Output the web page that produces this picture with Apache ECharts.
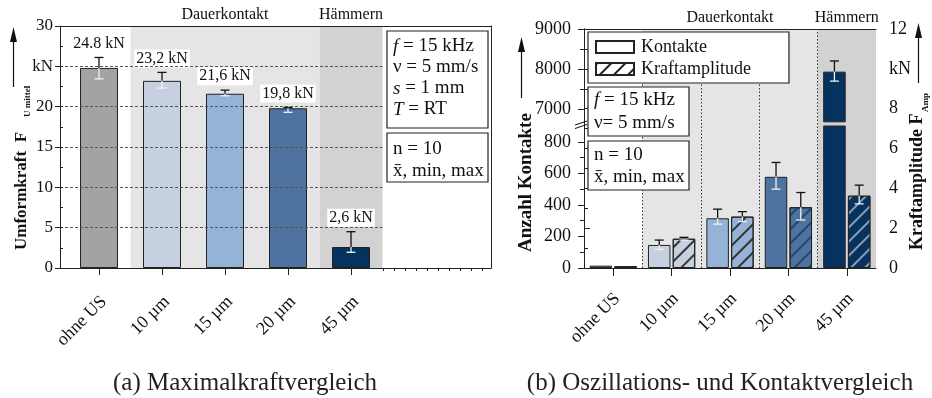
<!DOCTYPE html>
<html>
<head>
<meta charset="utf-8">
<script src="https://cdn.jsdelivr.net/npm/echarts@6/dist/echarts.min.js"></script>
<style>
  html, body { margin: 0; padding: 0; background: #fff; }
  #c { width: 932px; height: 398px; }
</style>
</head>
<body>
<div id="c"></div>
<script>
// ---------- Daten ----------
const categories = ['ohne US', '10 µm', '15 µm', '20 µm', '45 µm'];
const regionNames = ['Dauerkontakt', 'Hämmern'];

// (a) Umformkraft F_U mittel in kN (Mittelwert, Minimum, Maximum)
const forceMean = [24.8, 23.2, 21.6, 19.8, 2.6];
const forceMin = [23.45, 22.3, 21.35, 19.3, 1.95];
const forceMax = [26.1, 24.25, 22.05, 19.9, 4.5];
const forceDecimalSep = ['.', ',', ',', ',', ','];
const forceTicks = [0, 5, 10, 15, 20, 25, 30];

// (b) Anzahl Kontakte
const contactMean = [15, 146, 315, 578, 7943];
const contactMin = [null, 118, 278, 500, 7708];
const contactMax = [null, 177, 373, 669, 8208];
const contactTicksLow = [0, 200, 400, 600, 800];
const contactTicksHigh = [7000, 8000, 9000];

// (b) Kraftamplitude F_Amp in kN
const ampMean = [0.1, 1.47, 2.58, 3.05, 3.63];
const ampMin = [null, 1.40, 2.33, 2.41, 3.22];
const ampMax = [null, 1.54, 2.83, 3.79, 4.16];

// ---------- Stil ----------
const SERIF = '"Liberation Serif", "Times New Roman", serif';
const INK = '#111';
const barColors = ['#a3a3a3', '#c7d0e0', '#95b3d7', '#4e73a0', '#063260'];
const hatchColors = ['#333', '#333', '#333', '#26456e', '#8b9bb2'];
const axisLineStyle = { color: '#222', width: 1 };
const plain = v => String(v);

// Layout (a)
const A_XMIN = 0.381, A_XMAX = 7.222, A_LABEL_SHIFT = 0.08;
const xPos = categories.map((_, i) => i + 1);
const aMinorX = [];
for (let v = 5.513; v < A_XMAX; v += 0.1741) aMinorX.push(v);

// Layout (b)
const B_BAR_W = 22.5, B_GAP = '10%';
const B_OFFSET = (B_BAR_W + B_BAR_W * 0.1) / 2;
const B_LABEL_SHIFT = 0.07;
const LOW_MAX = 900, HIGH_MIN = 6700, HIGH_MAX = 9000;

function hatch(color) {
  return { symbol: 'rect', symbolSize: 1, color: color, dashArrayX: [1, 0], dashArrayY: [1.2, 7.3], rotation: -Math.PI / 4 };
}

function whiskers(offset, withLabel) {
  return function (params, api) {
    const x = api.value(0), m = api.value(1), lo = api.value(2), hi = api.value(3);
    const pm = api.coord([x, m]), pl = api.coord([x, lo]), ph = api.coord([x, hi]);
    const cx = pm[0] + offset, cap = 4.5;
    const dark = { stroke: '#111', lineWidth: 1.3 };
    const light = { stroke: '#f2f2f2', lineWidth: 1.3 };
    const children = [
      { type: 'line', shape: { x1: cx, y1: pm[1], x2: cx, y2: ph[1] }, style: dark },
      { type: 'line', shape: { x1: cx - cap, y1: ph[1], x2: cx + cap, y2: ph[1] }, style: dark },
      { type: 'line', shape: { x1: cx, y1: pm[1], x2: cx, y2: pl[1] }, style: light },
      { type: 'line', shape: { x1: cx - cap, y1: pl[1], x2: cx + cap, y2: pl[1] }, style: light }
    ];
    if (withLabel) {
      const i = params.dataIndex;
      children.push({
        type: 'text', x: cx, y: ph[1] - 14,
        style: {
          text: forceMean[i].toFixed(1).replace('.', forceDecimalSep[i]) + ' kN',
          fontSize: 16, fontFamily: SERIF, fill: INK,
          align: 'center', verticalAlign: 'middle',
          backgroundColor: '#fff', padding: [1, 2]
        }
      });
    }
    return { type: 'group', children: children };
  };
}

function frameAxis(extra) {
  return Object.assign({
    axisLine: { show: true, lineStyle: axisLineStyle },
    axisTick: { show: false }, axisLabel: { show: false }, splitLine: { show: false }, z: 10
  }, extra);
}

const labelFont = { fontFamily: SERIF, color: INK };

// ---------- Grafische Beschriftung ----------
function box(x, y, w, h) {
  return { type: 'rect', z: 20, silent: true, shape: { x: x, y: y, width: w, height: h },
           style: { fill: '#fff', stroke: '#222', lineWidth: 1.2 } };
}
function infoText(x, y, text, size, lh) {
  return { type: 'text', z: 21, silent: true, x: x, y: y,
    style: { text: text, fontSize: size, fontFamily: SERIF, fill: INK, lineHeight: lh,
      align: 'left', verticalAlign: 'top',
      rich: { i: { fontStyle: 'italic', fontSize: size, fontFamily: SERIF, fill: INK, lineHeight: lh } } } };
}
function vText(x, y, text, size, bold) {
  return { type: 'text', z: 21, silent: true, x: x, y: y, rotation: Math.PI / 2,
    style: { text: text, fontSize: size, fontWeight: bold ? 'bold' : 'normal', fontFamily: SERIF,
      fill: INK, align: 'left', verticalAlign: 'middle' } };
}
function arrow(x, yTail, yTip) {
  return [
    { type: 'line', z: 21, silent: true, shape: { x1: x, y1: yTail, x2: x, y2: yTip + 10 }, style: { stroke: INK, lineWidth: 1.2 } },
    { type: 'polygon', z: 21, silent: true, shape: { points: [[x, yTip], [x - 3.5, yTip + 15], [x + 3.5, yTip + 15]] }, style: { fill: INK } }
  ];
}
function caption(x, y, text) {
  return { type: 'text', z: 21, silent: true, x: x, y: y,
    style: { text: text, fontSize: 25, fontFamily: SERIF, fill: '#222', align: 'center', verticalAlign: 'middle' } };
}

const graphics = [].concat(
  [box(387, 31, 101, 97),
   infoText(393, 36, '{i|f} = 15 kHz\nν = 5 mm/s\n{i|s} = 1 mm\n{i|T} = RT', 19, 21),
   box(387, 133, 101, 49),
   infoText(393, 138, 'n = 10\nx\u0304, min, max', 19, 22),
   box(588, 87, 101, 49),
   infoText(594, 88.5, '{i|f} = 15 kHz\nν= 5 mm/s', 19, 23),
   box(588, 141, 101, 49),
   infoText(594, 144, 'n = 10\nx\u0304, min, max', 19, 22)],
  arrow(13.5, 87, 27), arrow(521.5, 98, 37), arrow(918.5, 83, 23),
  [vText(22, 250, 'Umformkraft  F', 17, true),
   vText(27.5, 117, 'U mittel', 9, true),
   vText(526, 252, 'Anzahl Kontakte', 19, true),
   vText(917, 250, 'Kraftamplitude F', 18, true),
   vText(926, 112, 'Amp', 9, true),
   caption(245, 383, '(a) Maximalkraftvergleich'),
   caption(720, 383, '(b) Oszillations- und Kontaktvergleich'),
   { type: 'line', z: 21, silent: true, shape: { x1: 575, y1: 125, x2: 587, y2: 121 }, style: { stroke: INK, lineWidth: 1 } },
   { type: 'line', z: 21, silent: true, shape: { x1: 575, y1: 128.5, x2: 587, y2: 124.5 }, style: { stroke: INK, lineWidth: 1 } }]
);

const option = {
  animation: false,
  textStyle: { fontFamily: SERIF },
  grid: [
    { left: 60, top: 26, width: 431, height: 242 },
    { left: 584, top: 29, width: 292, height: 239 },
    { left: 584, top: 126, width: 292, height: 142 },
    { left: 584, top: 29, width: 292, height: 92.8 }
  ],
  legend: {
    data: ['Kontakte', 'Kraftamplitude'], orient: 'vertical', left: 588, top: 32,
    icon: 'rect', itemWidth: 38, itemHeight: 12, itemGap: 4, padding: [6, 38, 5, 7],
    backgroundColor: '#fff', borderColor: '#222', borderWidth: 1.2, selectedMode: false,
    textStyle: { fontFamily: SERIF, fontSize: 18, color: INK, padding: [0, 0, 0, 2] }, z: 20
  },
  xAxis: [
    // 0: (a) Grundlinie mit Kategorie-Strichen
    { type: 'value', gridIndex: 0, position: 'bottom', min: A_XMIN, max: A_XMAX,
      axisLine: { show: true, lineStyle: axisLineStyle },
      axisTick: { show: true, customValues: xPos, length: 7, lineStyle: axisLineStyle },
      axisLabel: { show: false }, splitLine: { show: false }, z: 10 },
    // 1: (a) Kategorienamen
    { type: 'value', gridIndex: 0, position: 'bottom', min: A_XMIN, max: A_XMAX,
      axisLine: { show: false }, axisTick: { show: false }, splitLine: { show: false },
      axisLabel: Object.assign({ customValues: xPos.map(v => v + A_LABEL_SHIFT), rotate: 45, margin: 31, fontSize: 18,
        formatter: v => categories[Math.round(v - A_LABEL_SHIFT) - 1] }, labelFont) },
    // 2: (a) kleine Striche rechts
    { type: 'value', gridIndex: 0, position: 'bottom', min: A_XMIN, max: A_XMAX,
      axisLine: { show: false }, axisTick: { show: true, customValues: aMinorX, length: 3, lineStyle: axisLineStyle },
      axisLabel: { show: false }, splitLine: { show: false }, z: 10 },
    // 3: (a) oberer Rahmen
    frameAxis({ type: 'value', gridIndex: 0, position: 'top', min: A_XMIN, max: A_XMAX }),
    // 4: (b) Kategorieachse
    { type: 'category', gridIndex: 1, position: 'bottom', data: categories,
      axisLine: { show: true, lineStyle: axisLineStyle },
      axisTick: { show: true, alignWithLabel: true, length: 8, lineStyle: axisLineStyle },
      axisLabel: { show: false }, splitLine: { show: false }, z: 10 },
    // 5: (b) Hilfsachse für Bereiche, Trennlinien und Namen
    { type: 'value', gridIndex: 1, position: 'bottom', min: 0, max: categories.length,
      axisLine: { show: false }, axisTick: { show: false }, splitLine: { show: false },
      axisLabel: Object.assign({ customValues: categories.map((_, i) => i + 0.5 + B_LABEL_SHIFT), rotate: 45, margin: 28, fontSize: 18,
        formatter: v => categories[Math.round(v - 0.5 - B_LABEL_SHIFT)] }, labelFont) },
    // 6: (b) oberer Rahmen
    frameAxis({ type: 'value', gridIndex: 1, position: 'top', min: 0, max: categories.length }),
    // 7, 8: (b) Kategorieachsen der Kontakt-Abschnitte
    { type: 'category', gridIndex: 2, position: 'bottom', data: categories, show: false },
    { type: 'category', gridIndex: 3, position: 'bottom', data: categories, show: false }
  ],
  yAxis: [
    // 0: Umformkraft
    { type: 'value', gridIndex: 0, position: 'left', min: 0, max: 30, interval: 5,
      axisLine: { show: true, lineStyle: axisLineStyle },
      axisTick: { show: true, length: 5, lineStyle: axisLineStyle },
      axisLabel: Object.assign({ fontSize: 17, margin: 7, formatter: v => (v === 25 ? 'kN' : String(v)) }, labelFont),
      splitLine: { show: false }, z: 10 },
    // 1: innere Zwischenstriche
    { type: 'value', gridIndex: 0, position: 'left', min: 0, max: 30, interval: 2.5,
      axisLine: { show: false }, axisTick: { show: true, inside: true, length: 3, lineStyle: axisLineStyle },
      axisLabel: { show: false }, splitLine: { show: false }, z: 10 },
    // 2: rechter Rahmen (a)
    frameAxis({ type: 'value', gridIndex: 0, position: 'right', min: 0, max: 30 }),
    // 3: Kraftamplitude
    { type: 'value', gridIndex: 1, position: 'right', min: 0, max: 12, interval: 2,
      axisLine: { show: true, lineStyle: axisLineStyle },
      axisTick: { show: true, length: 6, lineStyle: axisLineStyle },
      minorTick: { show: true, splitNumber: 2, length: 4, lineStyle: axisLineStyle },
      axisLabel: Object.assign({ fontSize: 18, margin: 13, formatter: v => (v === 10 ? 'kN' : String(v)) }, labelFont),
      splitLine: { show: false }, minorSplitLine: { show: false }, z: 10 },
    // 4, 5: Kontakte unterer Abschnitt
    { type: 'value', gridIndex: 2, position: 'left', min: 0, max: LOW_MAX,
      axisLine: { show: true, lineStyle: axisLineStyle },
      axisTick: { show: true, customValues: contactTicksLow, length: 6, lineStyle: axisLineStyle },
      axisLabel: Object.assign({ customValues: contactTicksLow, fontSize: 18, margin: 13, formatter: plain }, labelFont),
      splitLine: { show: false }, z: 10 },
    { type: 'value', gridIndex: 2, position: 'left', min: 0, max: LOW_MAX,
      axisLine: { show: false },
      axisTick: { show: true, customValues: contactTicksLow.slice(1).map(v => v - 100), length: 4, lineStyle: axisLineStyle },
      axisLabel: { show: false }, splitLine: { show: false }, z: 10 },
    // 6, 7: Kontakte oberer Abschnitt
    { type: 'value', gridIndex: 3, position: 'left', min: HIGH_MIN, max: HIGH_MAX,
      axisLine: { show: true, lineStyle: axisLineStyle },
      axisTick: { show: true, customValues: contactTicksHigh, length: 6, lineStyle: axisLineStyle },
      axisLabel: Object.assign({ customValues: contactTicksHigh, fontSize: 18, margin: 13, formatter: plain }, labelFont),
      splitLine: { show: false }, z: 10 },
    { type: 'value', gridIndex: 3, position: 'left', min: HIGH_MIN, max: HIGH_MAX,
      axisLine: { show: false },
      axisTick: { show: true, customValues: contactTicksHigh.slice(1).map(v => v - 500), length: 4, lineStyle: axisLineStyle },
      axisLabel: { show: false }, splitLine: { show: false }, z: 10 }
  ],
  series: [
    // (a) Hintergrundbereiche
    { type: 'line', xAxisIndex: 0, yAxisIndex: 0, data: [], z: 1, silent: true,
      markArea: { silent: true,
        label: Object.assign({ show: true, position: 'top', distance: 3, fontSize: 16 }, labelFont),
        data: [
          [{ name: regionNames[0], xAxis: 1.5, itemStyle: { color: '#e5e5e5', opacity: 1 } }, { xAxis: 4.5 }],
          [{ name: regionNames[1], xAxis: 4.5, itemStyle: { color: '#d2d2d2', opacity: 1 } }, { xAxis: 5.5 }]
        ] } },
    // (a) gestrichelte Hilfslinien
    { type: 'line', xAxisIndex: 0, yAxisIndex: 0, data: [], z: 2, silent: true,
      markLine: { silent: true, symbol: ['none', 'none'], label: { show: false },
        lineStyle: { type: [3, 2], color: '#555', width: 1 },
        data: forceTicks.filter(v => v > 0 && v < 30).map(v => [{ coord: [A_XMIN, v] }, { coord: [5.5, v] }]) } },
    // (a) Balken
    { type: 'bar', name: 'Umformkraft', xAxisIndex: 0, yAxisIndex: 0, barWidth: 38, z: 3,
      itemStyle: { borderColor: '#222', borderWidth: 1 },
      data: forceMean.map((v, i) => ({ value: [xPos[i], v], itemStyle: { color: barColors[i] } })) },
    // (a) Streuung + Werte
    { type: 'custom', xAxisIndex: 0, yAxisIndex: 0, z: 4, silent: true,
      encode: { x: 0, y: 1 }, renderItem: whiskers(0, true),
      data: forceMean.map((v, i) => [xPos[i], v, forceMin[i], forceMax[i]]) },

    // (b) Hintergrundbereiche
    { type: 'line', xAxisIndex: 5, yAxisIndex: 3, data: [], z: 1, silent: true,
      markArea: { silent: true,
        label: Object.assign({ show: true, position: 'top', distance: 3, fontSize: 16 }, labelFont),
        data: [
          [{ name: regionNames[0], xAxis: 1, itemStyle: { color: '#e5e5e5', opacity: 1 } }, { xAxis: 4 }],
          [{ name: regionNames[1], xAxis: 4, itemStyle: { color: '#d2d2d2', opacity: 1 } }, { xAxis: 5 }]
        ] } },
    // (b) gepunktete Trennlinien
    { type: 'line', xAxisIndex: 5, yAxisIndex: 3, data: [], z: 2, silent: true,
      markLine: { silent: true, symbol: ['none', 'none'], label: { show: false },
        lineStyle: { type: [1.5, 2], color: '#333', width: 1 },
        data: [1, 2, 3, 4].map(v => ({ xAxis: v })) } },
    // (b) Kraftamplitude (rechte Position im Paar)
    { type: 'bar', name: '_slot', xAxisIndex: 4, yAxisIndex: 3, barWidth: B_BAR_W, barGap: B_GAP, data: [] },
    { type: 'bar', name: 'Kraftamplitude', xAxisIndex: 4, yAxisIndex: 3, barWidth: B_BAR_W, barGap: B_GAP, z: 3,
      itemStyle: { color: '#fff', borderColor: '#222', borderWidth: 1, decal: hatch('#222') },
      data: ampMean.map((v, i) => ({ value: v, itemStyle: { color: barColors[i], decal: hatch(hatchColors[i]) } })) },
    { type: 'custom', xAxisIndex: 4, yAxisIndex: 3, z: 4, silent: true, encode: { x: 0, y: 1 },
      renderItem: whiskers(B_OFFSET, false),
      data: ampMean.map((v, i) => [i, v, ampMin[i], ampMax[i]]).filter(d => d[3] != null) },
    // (b) Kontakte, unterer Abschnitt
    { type: 'bar', name: 'Kontakte', xAxisIndex: 7, yAxisIndex: 4, barWidth: B_BAR_W, barGap: B_GAP, z: 3, clip: true,
      itemStyle: { color: '#fff', borderColor: '#222', borderWidth: 1 },
      data: contactMean.map((v, i) => ({ value: v, itemStyle: { color: barColors[i] } })) },
    { type: 'bar', name: '_slot', xAxisIndex: 7, yAxisIndex: 4, barWidth: B_BAR_W, barGap: B_GAP, data: [] },
    { type: 'custom', xAxisIndex: 7, yAxisIndex: 4, z: 4, silent: true, encode: { x: 0, y: 1 },
      renderItem: whiskers(-B_OFFSET, false),
      data: contactMean.map((v, i) => [i, v, contactMin[i], contactMax[i]]).filter(d => d[3] != null && d[3] < LOW_MAX) },
    // (b) Kontakte, oberer Abschnitt
    { type: 'bar', name: 'Kontakte', xAxisIndex: 8, yAxisIndex: 6, barWidth: B_BAR_W, barGap: B_GAP, z: 3, clip: true,
      itemStyle: { color: '#fff', borderColor: '#222', borderWidth: 1 },
      data: contactMean.map((v, i) => ({ value: v, itemStyle: { color: barColors[i] } })) },
    { type: 'bar', name: '_slot', xAxisIndex: 8, yAxisIndex: 6, barWidth: B_BAR_W, barGap: B_GAP, data: [] },
    { type: 'custom', xAxisIndex: 8, yAxisIndex: 6, z: 4, silent: true, encode: { x: 0, y: 1 },
      renderItem: whiskers(-B_OFFSET, false),
      data: contactMean.map((v, i) => [i, v, contactMin[i], contactMax[i]]).filter(d => d[1] > HIGH_MIN) }
  ],
  graphic: graphics
};

const chart = echarts.init(document.getElementById('c'), null, { renderer: 'canvas' });
chart.setOption(option);
</script>
</body>
</html>
